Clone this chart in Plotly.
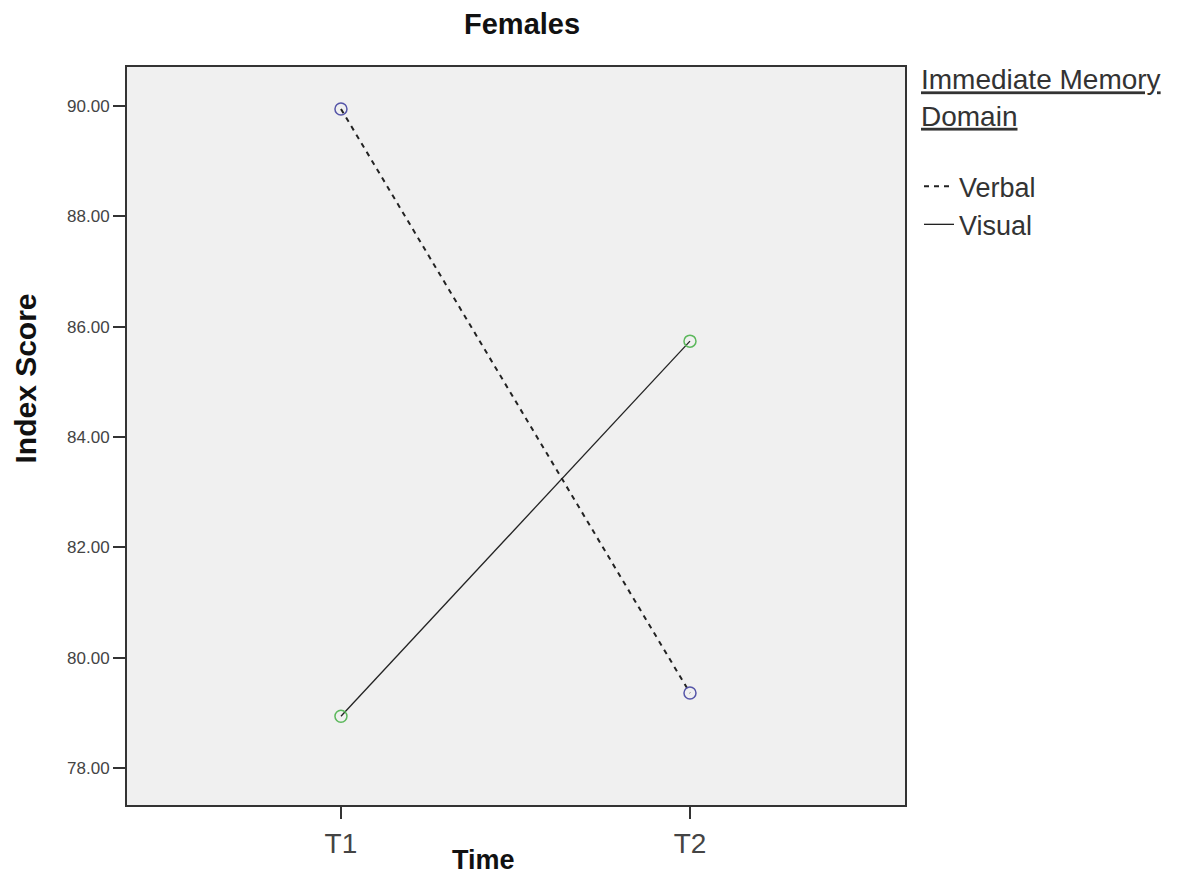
import plotly.graph_objects as go

times = ["T1", "T2"]
verbal = [89.95, 79.36]
visual = [78.94, 85.74]
y_ticks = [78, 80, 82, 84, 86, 88, 90]
y_tick_labels = ["78.00", "80.00", "82.00", "84.00", "86.00", "88.00", "90.00"]

FONT = "Liberation Sans, Arial, sans-serif"

fig = go.Figure()
# lines (legend entries)
fig.add_trace(go.Scatter(x=times, y=verbal, mode="lines", name="Verbal",
                         line=dict(color="#222222", width=2, dash="5px,5px")))
fig.add_trace(go.Scatter(x=times, y=visual, mode="lines", name="Visual",
                         line=dict(color="#222222", width=1.3)))
# markers
fig.add_trace(go.Scatter(x=times, y=verbal, mode="markers", showlegend=False,
                         marker=dict(symbol="circle-open", size=12, color="#5555a8",
                                     line=dict(width=1.5))))
fig.add_trace(go.Scatter(x=times, y=visual, mode="markers", showlegend=False,
                         marker=dict(symbol="circle-open", size=12, color="#5cb85c",
                                     line=dict(width=1.5))))

fig.update_layout(
    width=1197, height=879,
    margin=dict(l=127, r=292, t=67, b=74),
    paper_bgcolor="white",
    plot_bgcolor="#f0f0f0",
    font=dict(family=FONT, color="#333333"),
    showlegend=True,
    legend=dict(
        x=1.018, y=1.019, xanchor="left", yanchor="top",
        bgcolor="rgba(0,0,0,0)", borderwidth=0,
        font=dict(size=27, color="#333333", family=FONT),
        title=dict(text="<u>Immediate Memory</u><br><u>Domain</u><br> ",
                   font=dict(size=28, color="#333333", family=FONT)),
        itemwidth=30,
        tracegroupgap=0,
    ),
    xaxis=dict(
        type="category",
        range=[-0.613, 1.616],
        showgrid=False, zeroline=False,
        showline=True, linecolor="#333333", linewidth=2, mirror=True,
        ticks="outside", ticklen=12, tickcolor="#333333", tickwidth=2,
        tickfont=dict(size=28, color="#444444", family=FONT),
    ),
    yaxis=dict(
        range=[77.33, 90.71],
        tickvals=y_ticks, ticktext=y_tick_labels,
        showgrid=False, zeroline=False,
        showline=True, linecolor="#333333", linewidth=2, mirror=True,
        ticks="outside", ticklen=12, tickcolor="#333333", tickwidth=1.5,
        tickfont=dict(size=17, color="#444444", family=FONT),
    ),
    annotations=[
        dict(text="<b>Females</b>", x=(522 - 127) / 778, y=1 + (67 - 24) / 738,
             xref="paper", yref="paper", xanchor="center", yanchor="middle",
             showarrow=False, font=dict(size=29, color="#111111", family=FONT)),
        dict(text="<b>Time</b>", x=0.458, y=-0.0745, xref="paper", yref="paper",
             xanchor="center", yanchor="middle", showarrow=False,
             font=dict(size=27, color="#111111", family=FONT)),
        dict(text="<b>Index Score</b>", x=-0.131, y=0.578, xref="paper", yref="paper",
             xanchor="center", yanchor="middle", textangle=-90, showarrow=False,
             font=dict(size=30, color="#111111", family=FONT)),
    ],
)

fig.write_html("out.html")
